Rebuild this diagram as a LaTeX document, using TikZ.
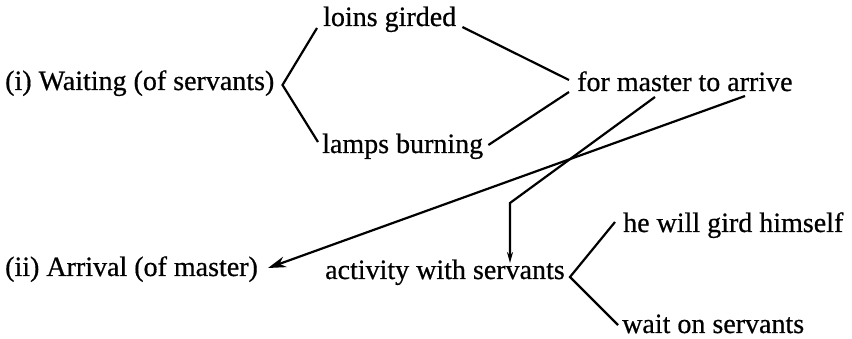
\documentclass[tikz,border=0pt]{standalone}
\usepackage{fontspec}
\setmainfont{Liberation Serif}[FakeBold=0.6]
\usetikzlibrary{arrows.meta}
\begin{document}
\begin{tikzpicture}[x=1pt,y=-1pt,
  lbl/.style={inner sep=0pt,anchor=base west,font=\fontsize{28}{34}\selectfont},
  link/.style={line width=2.2pt},
  bigarrow/.style={link,-{Stealth[length=18pt,width=11pt]}},
  smallarrow/.style={link,-{Stealth[length=11pt,width=6pt]}}]
\useasboundingbox (0,0) rectangle (852,339);

% row one: waiting
\node[lbl] (waiting) at (5,90)   {(i) Waiting (of servants)};
\node[lbl] (loins)   at (323,26) {loins girded};
\node[lbl] (lamps)   at (322,153){lamps burning};
\node[lbl] (formaster) at (577,91) {for master to arrive};

% row two: arrival
\node[lbl] (arrival)  at (5,276)   {(ii) Arrival (of master)};
\node[lbl] (activity) at (325,279) {activity with servants};
\node[lbl] (gird)     at (623,232) {he will gird himself};
\node[lbl] (waiton)   at (622,333) {wait on servants};

% fork after "Waiting"
\draw[link] ([shift={(-6,2)}]loins.base west)
  -- ([shift={(8,-5)}]waiting.base east)
  -- ([shift={(-4,-11)}]lamps.base west);

% both branches join at "for master to arrive"
\draw[link] ([shift={(6,1)}]loins.base east) -- ([shift={(-8,-11)}]formaster.base west);
\draw[link] ([shift={(5,-8)}]lamps.base east) -- ([shift={(-8,1)}]formaster.base west);

% arrows down to the second row
\draw[bigarrow] ([shift={(168,5)}]formaster.base west) -- ([shift={(263,-8)}]arrival.base west);
\draw[smallarrow] ([shift={(78,6)}]formaster.base west)
  -- ([shift={(185,-76)}]activity.base west)
  -- ([shift={(185,-16)}]activity.base west);

% fork after "activity with servants"
\draw[link] ([shift={(-8,-10)}]gird.base west)
  -- ([shift={(245,-2)}]activity.base west)
  -- ([shift={(-4,-8)}]waiton.base west);
\end{tikzpicture}
\end{document}
